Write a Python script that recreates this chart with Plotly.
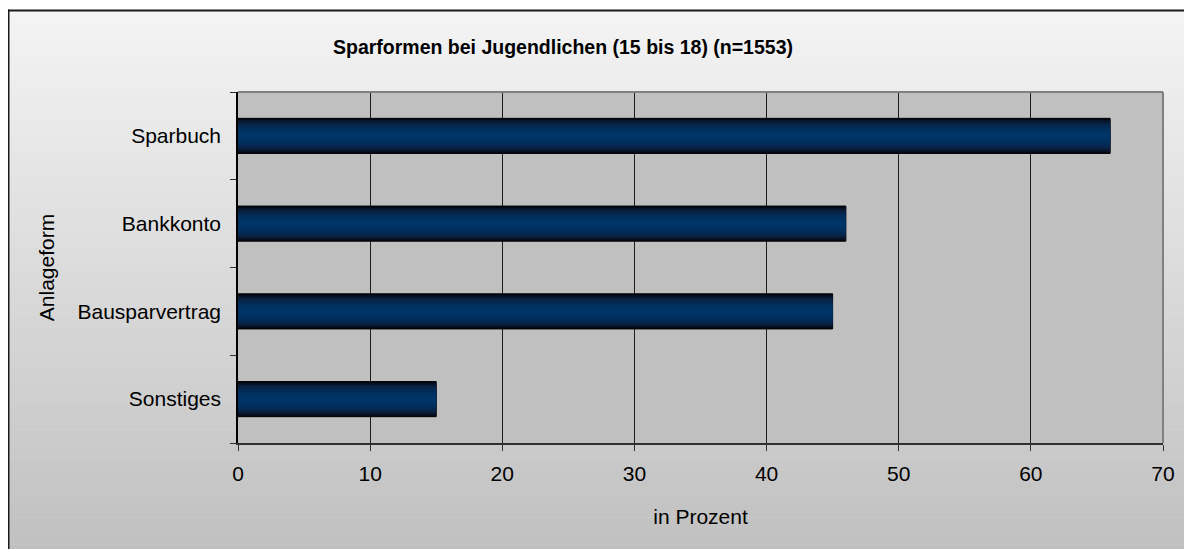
import plotly.graph_objects as go

categories = ["Sparbuch", "Bankkonto", "Bausparvertrag", "Sonstiges"]
values = [66, 46, 45, 15]
x_ticks = [0, 10, 20, 30, 40, 50, 60, 70]

# page has an 8px body margin; figure drawn in reference coordinates minus 8
OFF = 8
W, H = 1192 - OFF, 549 - OFF
L, R, T, B = 238, 1163, 92, 443  # plot area in reference (page) pixels

def px_x(px):
    return (px - L) / (R - L)

def px_y(py):
    return (B - py) / (B - T)

fig = go.Figure()

layers = [
    (0.40, "#020814", dict(color="#000000", width=1)),
    (0.36, "#06152b", dict(width=0)),
    (0.31, "#0a2140", dict(width=0)),
    (0.25, "#022a55", dict(width=0)),
    (0.17, "#00305f", dict(width=0)),
    (0.09, "#003366", dict(width=0)),
]
for w, c, ln in layers:
    fig.add_trace(go.Bar(
        y=categories, x=values, orientation="h", width=w,
        marker=dict(color=c, line=ln), showlegend=False,
        hoverinfo="x+y" if w == 0.40 else "skip",
    ))

shapes = []
n = 80
top_px, bot_px = 10, 549 + 2
for i in range(n):
    y0 = top_px + (bot_px - top_px) * i / n
    y1 = top_px + (bot_px - top_px) * (i + 1) / n + 0.5
    t = (i + 0.5) / n
    v = round(244 - (244 - 192) * t)
    shapes.append(dict(type="rect", xref="paper", yref="paper", layer="below",
                       x0=px_x(8), x1=px_x(1200), y0=px_y(y1), y1=px_y(y0),
                       fillcolor=f"rgb({v},{v},{v})", line=dict(width=0)))
shapes.append(dict(type="rect", xref="x domain", yref="y domain", layer="below",
                   x0=0, x1=1, y0=0, y1=1, fillcolor="#c0c0c0", line=dict(width=0)))
shapes.append(dict(type="line", xref="x domain", yref="y domain", layer="above",
                   x0=0, x1=1, y0=1, y1=1, line=dict(color="#808080", width=2)))
shapes.append(dict(type="line", xref="x domain", yref="y domain", layer="above",
                   x0=1, x1=1, y0=0, y1=1, line=dict(color="#808080", width=2)))
shapes.append(dict(type="line", xref="paper", yref="paper", layer="above",
                   x0=px_x(8.5), x1=px_x(8.5), y0=px_y(9.5), y1=px_y(560), line=dict(color="#1a1a1a", width=2)))
shapes.append(dict(type="line", xref="paper", yref="paper", layer="above",
                   x0=px_x(8), x1=px_x(1200), y0=px_y(10.5), y1=px_y(10.5), line=dict(color="#1a1a1a", width=2)))

font = "Liberation Sans, Arial, sans-serif"

fig.update_layout(
    width=W, height=H,
    margin=dict(l=L - OFF, r=1192 - R, t=T - OFF, b=549 - B, autoexpand=False),
    paper_bgcolor="white",
    plot_bgcolor="rgba(0,0,0,0)",
    barmode="overlay",
    shapes=shapes,
    font=dict(family=font, size=21, color="#000000"),
    title=dict(text="<b>Sparformen bei Jugendlichen (15 bis 18) (n=1553)</b>",
               x=(563 - OFF) / W, xanchor="center",
               y=1 - (47 - OFF) / H, yanchor="middle",
               font=dict(family=font, size=19.5, color="#000000")),
    xaxis=dict(range=[0, 70], tickvals=x_ticks, showgrid=True, gridcolor="#1e1e1e", gridwidth=1,
               showline=True, linecolor="#303030", linewidth=1.5,
               ticks="outside", ticklen=6, tickcolor="#303030", ticklabelstandoff=5,
               zeroline=False, fixedrange=True,
               title=dict(text="in Prozent", standoff=25, font=dict(size=21))),
    yaxis=dict(categoryorder="array", categoryarray=categories[::-1], tickson="boundaries",
               showgrid=False, showline=True, linecolor="#000000", linewidth=1.5,
               ticks="outside", ticklen=6, tickcolor="#303030", ticklabelstandoff=11,
               zeroline=False, fixedrange=True,
               title=dict(text="Anlageform", standoff=17, font=dict(size=21))),
)

fig.write_html("out.html")
